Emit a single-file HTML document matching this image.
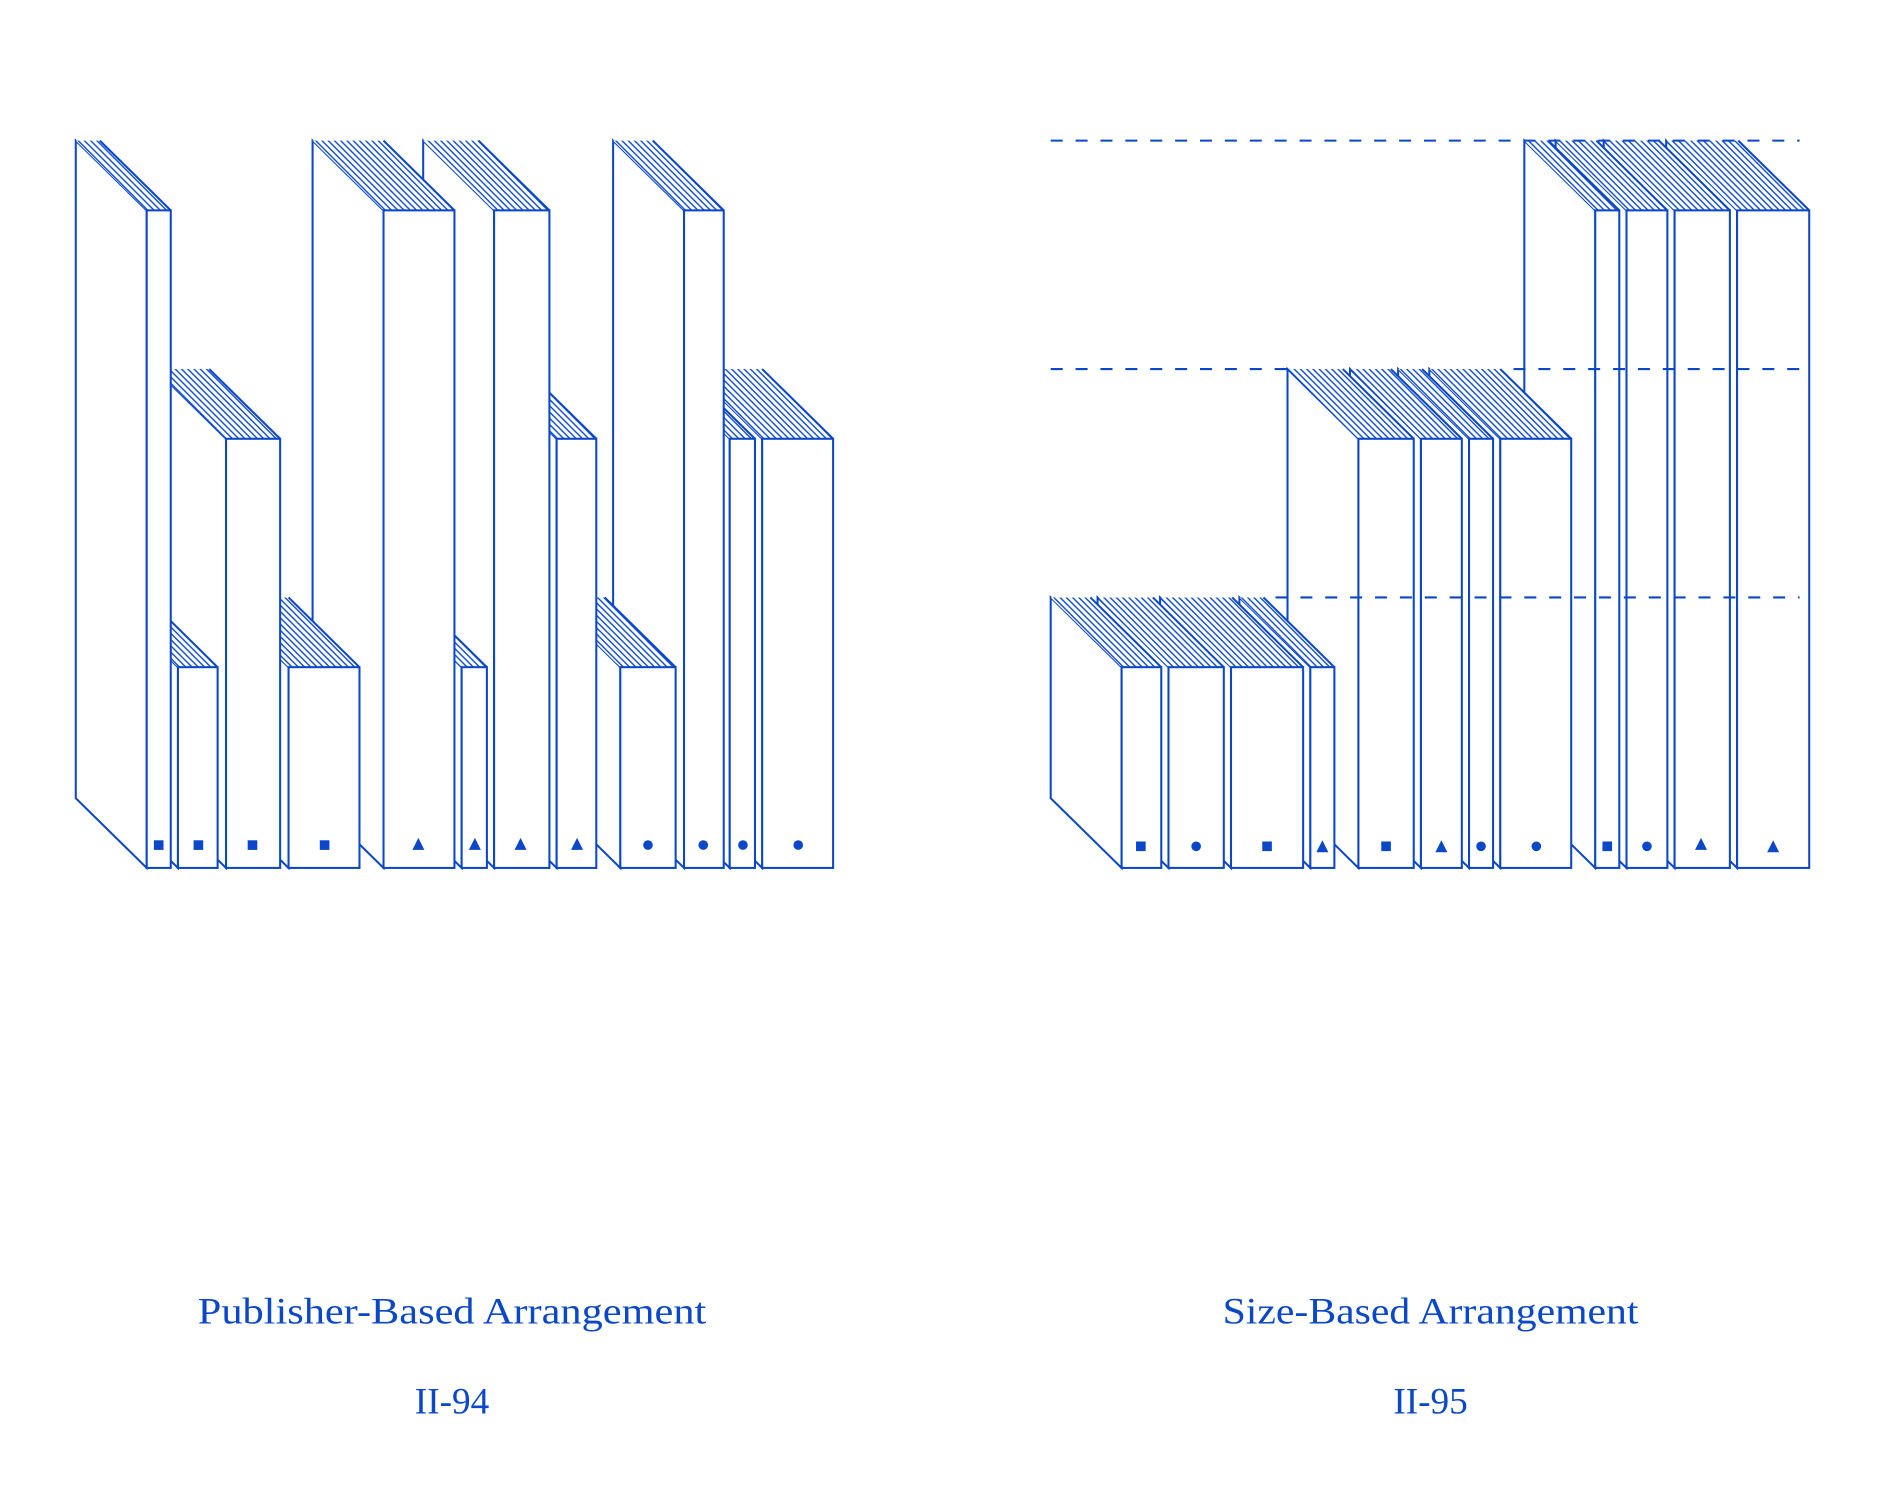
<!DOCTYPE html>
<html><head><meta charset="utf-8"><style>html,body{margin:0;padding:0;background:#fff}svg{display:block}</style></head>
<body>
<svg width="1885" height="1500" viewBox="0 0 1568 1247.8" xmlns="http://www.w3.org/2000/svg">
<defs>
<pattern id="h" patternUnits="userSpaceOnUse" width="5.2" height="5.2">
<rect width="5.2" height="5.2" fill="#fff"/>
<path d="M0,0 L5.2,5.2 M-1,4.2 L1,6.2 M4.2,-1 L6.2,1" stroke="#0a47c9" stroke-width="1.15"/>
</pattern>
</defs>
<g fill="#fff" stroke="#0a47c9" stroke-width="1.7" stroke-linejoin="miter">
<polygon points="634,365 575,307 575,664 634,722"/><polygon points="634,365 575,307 634,307 693,365" fill="url(#h)" stroke="none"/><line x1="693" y1="365" x2="634" y2="307"/><rect x="634" y="365" width="59" height="357"/>
<polygon points="607,365 548,307 548,664 607,722"/><polygon points="607,365 548,307 569,307 628,365" fill="url(#h)" stroke="none"/><line x1="628" y1="365" x2="569" y2="307"/><rect x="607" y="365" width="21" height="357"/>
<polygon points="569,175 510,117 510,664 569,722"/><polygon points="569,175 510,117 543,117 602,175" fill="url(#h)" stroke="none"/><line x1="602" y1="175" x2="543" y2="117"/><rect x="569" y="175" width="33" height="547"/>
<polygon points="516,555 457,497 457,664 516,722"/><polygon points="516,555 457,497 503,497 562,555" fill="url(#h)" stroke="none"/><line x1="562" y1="555" x2="503" y2="497"/><rect x="516" y="555" width="46" height="167"/>
<polygon points="463,365 404,307 404,664 463,722"/><polygon points="463,365 404,307 437,307 496,365" fill="url(#h)" stroke="none"/><line x1="496" y1="365" x2="437" y2="307"/><rect x="463" y="365" width="33" height="357"/>
<polygon points="411,175 352,117 352,664 411,722"/><polygon points="411,175 352,117 398,117 457,175" fill="url(#h)" stroke="none"/><line x1="457" y1="175" x2="398" y2="117"/><rect x="411" y="175" width="46" height="547"/>
<polygon points="384,555 325,497 325,664 384,722"/><polygon points="384,555 325,497 346,497 405,555" fill="url(#h)" stroke="none"/><line x1="405" y1="555" x2="346" y2="497"/><rect x="384" y="555" width="21" height="167"/>
<polygon points="319,175 260,117 260,664 319,722"/><polygon points="319,175 260,117 319,117 378,175" fill="url(#h)" stroke="none"/><line x1="378" y1="175" x2="319" y2="117"/><rect x="319" y="175" width="59" height="547"/>
<polygon points="240,555 181,497 181,664 240,722"/><polygon points="240,555 181,497 240,497 299,555" fill="url(#h)" stroke="none"/><line x1="299" y1="555" x2="240" y2="497"/><rect x="240" y="555" width="59" height="167"/>
<polygon points="188,365 129,307 129,664 188,722"/><polygon points="188,365 129,307 174,307 233,365" fill="url(#h)" stroke="none"/><line x1="233" y1="365" x2="174" y2="307"/><rect x="188" y="365" width="45" height="357"/>
<polygon points="148,555 89,497 89,664 148,722"/><polygon points="148,555 89,497 122,497 181,555" fill="url(#h)" stroke="none"/><line x1="181" y1="555" x2="122" y2="497"/><rect x="148" y="555" width="33" height="167"/>
<polygon points="122,175 63,117 63,664 122,722"/><polygon points="122,175 63,117 83,117 142,175" fill="url(#h)" stroke="none"/><line x1="142" y1="175" x2="83" y2="117"/><rect x="122" y="175" width="20" height="547"/>
<polygon points="1445,175 1386,117 1386,664 1445,722"/><polygon points="1445,175 1386,117 1446,117 1505,175" fill="url(#h)" stroke="none"/><line x1="1505" y1="175" x2="1446" y2="117"/><rect x="1445" y="175" width="60" height="547"/>
<polygon points="1393,175 1334,117 1334,664 1393,722"/><polygon points="1393,175 1334,117 1380,117 1439,175" fill="url(#h)" stroke="none"/><line x1="1439" y1="175" x2="1380" y2="117"/><rect x="1393" y="175" width="46" height="547"/>
<polygon points="1353,175 1294,117 1294,664 1353,722"/><polygon points="1353,175 1294,117 1328,117 1387,175" fill="url(#h)" stroke="none"/><line x1="1387" y1="175" x2="1328" y2="117"/><rect x="1353" y="175" width="34" height="547"/>
<polygon points="1327,175 1268,117 1268,664 1327,722"/><polygon points="1327,175 1268,117 1288,117 1347,175" fill="url(#h)" stroke="none"/><line x1="1347" y1="175" x2="1288" y2="117"/><rect x="1327" y="175" width="20" height="547"/>
<polygon points="1248,365 1189,307 1189,664 1248,722"/><polygon points="1248,365 1189,307 1248,307 1307,365" fill="url(#h)" stroke="none"/><line x1="1307" y1="365" x2="1248" y2="307"/><rect x="1248" y="365" width="59" height="357"/>
<polygon points="1222,365 1163,307 1163,664 1222,722"/><polygon points="1222,365 1163,307 1183,307 1242,365" fill="url(#h)" stroke="none"/><line x1="1242" y1="365" x2="1183" y2="307"/><rect x="1222" y="365" width="20" height="357"/>
<polygon points="1182,365 1123,307 1123,664 1182,722"/><polygon points="1182,365 1123,307 1157,307 1216,365" fill="url(#h)" stroke="none"/><line x1="1216" y1="365" x2="1157" y2="307"/><rect x="1182" y="365" width="34" height="357"/>
<polygon points="1130,365 1071,307 1071,664 1130,722"/><polygon points="1130,365 1071,307 1117,307 1176,365" fill="url(#h)" stroke="none"/><line x1="1176" y1="365" x2="1117" y2="307"/><rect x="1130" y="365" width="46" height="357"/>
<polygon points="1090,555 1031,497 1031,664 1090,722"/><polygon points="1090,555 1031,497 1051,497 1110,555" fill="url(#h)" stroke="none"/><line x1="1110" y1="555" x2="1051" y2="497"/><rect x="1090" y="555" width="20" height="167"/>
<polygon points="1024,555 965,497 965,664 1024,722"/><polygon points="1024,555 965,497 1025,497 1084,555" fill="url(#h)" stroke="none"/><line x1="1084" y1="555" x2="1025" y2="497"/><rect x="1024" y="555" width="60" height="167"/>
<polygon points="972,555 913,497 913,664 972,722"/><polygon points="972,555 913,497 959,497 1018,555" fill="url(#h)" stroke="none"/><line x1="1018" y1="555" x2="959" y2="497"/><rect x="972" y="555" width="46" height="167"/>
<polygon points="933,555 874,497 874,664 933,722"/><polygon points="933,555 874,497 907,497 966,555" fill="url(#h)" stroke="none"/><line x1="966" y1="555" x2="907" y2="497"/><rect x="933" y="555" width="33" height="167"/>
</g>
<g stroke="#0a47c9" stroke-width="1.7" stroke-dasharray="10,10.7" fill="none">
<line x1="874" y1="117" x2="1497" y2="117"/>
<line x1="874" y1="307" x2="1071" y2="307"/>
<line x1="1259" y1="307" x2="1497" y2="307"/>
<line x1="1061" y1="497" x2="1497" y2="497"/>
</g>
<g fill="#0a47c9">
<rect x="128" y="699" width="8" height="8"/><rect x="161" y="699" width="8" height="8"/><rect x="206" y="699" width="8" height="8"/><rect x="266" y="699" width="8" height="8"/>
<polygon points="343,707 353,707 348,697"/><polygon points="390,707 400,707 395,697"/><polygon points="428,707 438,707 433,697"/><polygon points="475,707 485,707 480,697"/>
<circle cx="539" cy="703" r="4"/><circle cx="585" cy="703" r="4"/><circle cx="618" cy="703" r="4"/><circle cx="664" cy="703" r="4"/>
<rect x="945" y="700" width="8" height="8"/><circle cx="995" cy="704" r="4"/><rect x="1050" y="700" width="8" height="8"/><polygon points="1095,709 1105,709 1100,699"/>
<rect x="1149" y="700" width="8" height="8"/><polygon points="1194,709 1204,709 1199,699"/><circle cx="1232" cy="704" r="4"/><circle cx="1278" cy="704" r="4"/>
<rect x="1333" y="700" width="8" height="8"/><circle cx="1370" cy="704" r="4"/><polygon points="1410,707 1420,707 1415,697"/><polygon points="1470,709 1480,709 1475,699"/>
</g>
<g fill="#0a47c9" font-family="'Liberation Serif', serif" font-size="31" text-anchor="middle">
<text x="376" y="1101" textLength="423" lengthAdjust="spacingAndGlyphs">Publisher-Based Arrangement</text>
<text x="376" y="1176">II-94</text>
<text x="1190" y="1101" textLength="346" lengthAdjust="spacingAndGlyphs">Size-Based Arrangement</text>
<text x="1190" y="1176">II-95</text>
</g>
</svg>
</body></html>
